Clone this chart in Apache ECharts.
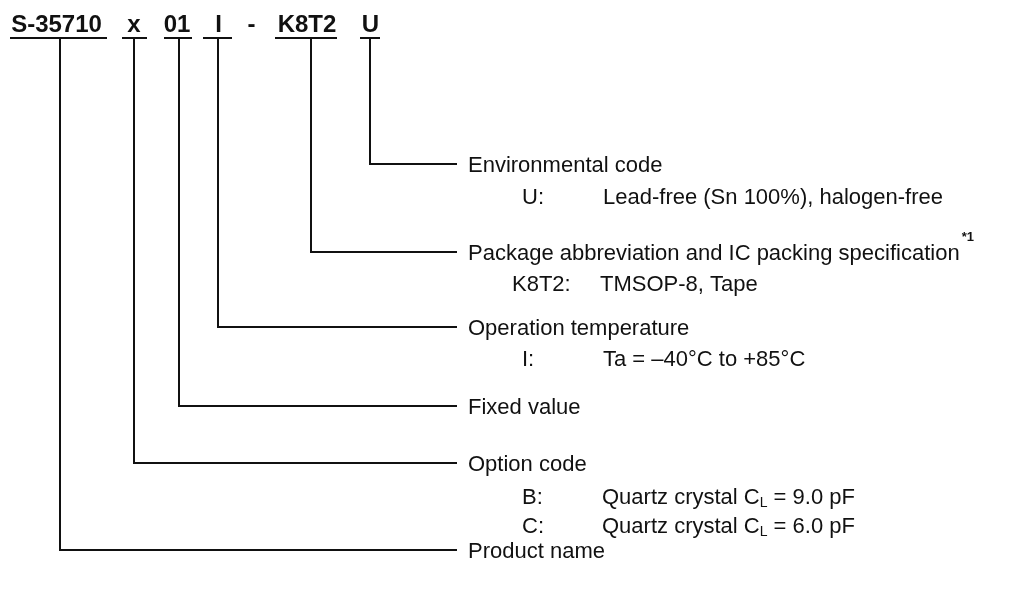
<!DOCTYPE html>
<html><head><meta charset="utf-8">
<script src="https://cdn.jsdelivr.net/npm/echarts@6/dist/echarts.min.js"></script>
<style>html,body{margin:0;padding:0;background:#fff}#c{width:1019px;height:590px}</style>
</head><body><div id="c"></div>
<script>
// ---- data ----
const codeSegments = ['S-35710', 'x', '01', 'I', '-', 'K8T2', 'U'];
const fieldSegments = ['U', 'K8T2', 'I', '01', 'x', 'S-35710'];
const fieldNames = ['Environmental code', 'Package abbreviation and IC packing specification', 'Operation temperature', 'Fixed value', 'Option code', 'Product name'];
const fieldNotes = ['', '*1', '', '', '', ''];
const optionCodes = ['U:', 'K8T2:', 'I:', 'B:', 'C:'];
const optionValues = ['Lead-free (Sn 100%), halogen-free', 'TMSOP-8, Tape', 'Ta = \u201340\u00b0C to +85\u00b0C', 'Quartz crystal C{sub|L} = 9.0 pF', 'Quartz crystal C{sub|L} = 6.0 pF'];

// ---- layout (pixel space of hidden axes) ----
const L = {
  headerY: 25, underlineY: 38,
  segCenter: [56.5, 134, 177, 218.5, 251.5, 307, 370.5],
  segUnderline: [[10, 107], [122, 147], [164, 192], [203, 232], null, [275, 337], [360, 380]],
  segStem: [60, 134, 179, 218, null, 311, 370],
  fieldRowY: [164, 252, 327, 406, 463, 550],
  lineEndX: 457, headingX: 468,
  optionY: [198, 285, 360, 498, 527],
  optionCodeX: [522, 512, 522, 522, 522],
  optionValueX: [603, 600, 603, 602, 602]
};
const FONT = '"Liberation Sans", Arial, Helvetica, sans-serif';
const BODY = 22;
const INK = '#111';

const chart = echarts.init(document.getElementById('c'), null, { renderer: 'canvas' });

const headerData = codeSegments.map((s, i) => [L.segCenter[i], L.headerY, i]);
const fieldData = fieldSegments.map((seg, i) => {
  const si = codeSegments.indexOf(seg);
  return [L.segStem[si], L.fieldRowY[i], i];
});
const optionData = optionCodes.map((c, i) => [L.optionCodeX[i], L.optionY[i], i]);

const measureCtx = document.createElement('canvas').getContext('2d');
function textWidth(t, size, weight) {
  measureCtx.font = (weight || 'normal') + ' ' + size + 'px ' + FONT;
  return measureCtx.measureText(t).width;
}

chart.setOption({
  animation: false,
  backgroundColor: '#fff',
  grid: { left: 0, right: 0, top: 0, bottom: 0 },
  xAxis: { type: 'value', min: 0, max: 1019, show: false },
  yAxis: { type: 'value', min: 0, max: 590, inverse: true, show: false },
  series: [
    {
      type: 'custom', name: 'header', data: headerData, silent: true,
      renderItem: function (params, api) {
        const i = api.value(2);
        const p = api.coord([api.value(0), api.value(1)]);
        const children = [{
          type: 'text',
          style: { text: codeSegments[i], x: p[0], y: p[1], textAlign: 'center', textVerticalAlign: 'middle',
                   font: 'bold 24px ' + FONT, fill: INK }
        }];
        const ul = L.segUnderline[i];
        if (ul) {
          const a = api.coord([ul[0], L.underlineY]);
          const b = api.coord([ul[1], L.underlineY]);
          children.push({ type: 'line', shape: { x1: a[0], y1: a[1], x2: b[0], y2: b[1] },
                          style: { stroke: INK, lineWidth: 2 } });
        }
        return { type: 'group', children: children };
      }
    },
    {
      type: 'custom', name: 'fields', data: fieldData, silent: true,
      renderItem: function (params, api) {
        const i = api.value(2);
        const sx = api.value(0), ry = api.value(1);
        const pts = [api.coord([sx, L.underlineY]), api.coord([sx, ry]), api.coord([L.lineEndX, ry])];
        const tp = api.coord([L.headingX, ry + 2]);
        const children = [
          { type: 'polyline', shape: { points: pts }, style: { stroke: INK, lineWidth: 2, fill: null } },
          { type: 'text', style: { text: fieldNames[i], x: tp[0], y: tp[1], textAlign: 'left', textVerticalAlign: 'middle',
                                   font: BODY + 'px ' + FONT, fill: INK } }
        ];
        if (fieldNotes[i]) {
          const w = textWidth(fieldNames[i], BODY);
          children.push({ type: 'text', style: { text: fieldNotes[i], x: tp[0] + w + 2, y: tp[1] - 17,
                          textAlign: 'left', textVerticalAlign: 'middle', font: 'bold 13px ' + FONT, fill: INK } });
        }
        return { type: 'group', children: children };
      }
    },
    {
      type: 'custom', name: 'options', data: optionData, silent: true,
      renderItem: function (params, api) {
        const i = api.value(2);
        const p = api.coord([api.value(0), api.value(1)]);
        const v = api.coord([L.optionValueX[i], api.value(1)]);
        return {
          type: 'group', children: [
            { type: 'text', style: { text: optionCodes[i], x: p[0], y: p[1], textAlign: 'left', textVerticalAlign: 'middle',
                                     font: BODY + 'px ' + FONT, fill: INK } },
            { type: 'text', style: { text: optionValues[i], x: v[0], y: v[1], textAlign: 'left', textVerticalAlign: 'middle',
                                     font: BODY + 'px ' + FONT, fill: INK, lineHeight: 24,
                                     rich: { sub: { fontSize: 14, lineHeight: 8, verticalAlign: 'bottom', fontFamily: FONT, fill: INK } } } }
          ]
        };
      }
    }
  ]
});
</script>
</body></html>
